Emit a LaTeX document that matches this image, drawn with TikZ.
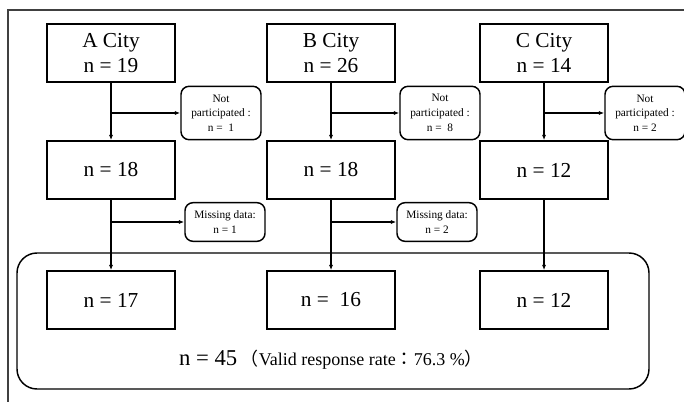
\documentclass[tikz,border=0pt]{standalone}
\usepackage{fontspec}
\setmainfont{Liberation Serif}
\newfontfamily\cjk{Noto Sans CJK JP}
\usetikzlibrary{arrows.meta}

\begin{document}
\begin{tikzpicture}[x=0.75pt, y=-0.75pt,
  citybox/.style={draw, line width=1.1pt, minimum width=96pt, minimum height=43.5pt, align=center, font=\fontsize{16}{19}\selectfont, inner sep=0pt},
  notebox/.style={draw, line width=1.1pt, rounded corners=6pt, minimum width=60pt, align=center, inner sep=0pt, font=\fontsize{8.5}{11}\selectfont},
  flow/.style={line width=1.1pt, -{Latex[length=4pt,width=3pt]}}]
\useasboundingbox (0,0) rectangle (684,402);
\draw[line width=0.8pt, black!75] (8,402) -- (8,10) -- (684,10);

\draw[line width=1.1pt, rounded corners=15pt] (17,253) rectangle (649,389);

\node[citybox] (a1) at (111,53) {A City\\n = 19};
\node[citybox] (b1) at (331,53) {B City\\n = 26};
\node[citybox] (c1) at (544,53) {C City\\n = 14};

\node[citybox] (a2) at (111,170) {n = 18};
\node[citybox] (b2) at (331,170) {n = 18};
\node[citybox] (c2) at (544,170) {n = 12};

\node[citybox] (a3) at (111,300) {n = 17};
\node[citybox] (b3) at (331,300) {n =\ \ 16};
\node[citybox] (c3) at (544,300) {n = 12};

\node[notebox, minimum height=40pt] (npa) at (221,113) {Not\\participated :\\n =\ \ 1};
\node[notebox, minimum height=40pt] (npb) at (440,113) {Not\\participated :\\n =\ \ 8};
\node[notebox, minimum height=40pt] (npc) at (645,113) {Not\\participated :\\n = 2};

\node[notebox, minimum height=29pt] (msa) at (225,222) {Missing data:\\n = 1};
\node[notebox, minimum height=29pt] (msb) at (437,222) {Missing data:\\n = 2};

\node (total) at (331,360) {\fontsize{17}{20}\selectfont n = 45\,\fontsize{13.5}{16}\selectfont{\cjk （}Valid response rate{\cjk ：}76.3 \%{\cjk ）}};

\foreach \c in {a,b,c} {
  \draw[flow] (\c1) -- (\c2);
  \draw[flow] (\c2) -- (\c3);
  \draw[flow] (\c1 |- np\c) -- (np\c);
}
\foreach \c in {a,b}
  \draw[flow] (\c2 |- ms\c) -- (ms\c);
\end{tikzpicture}
\end{document}
